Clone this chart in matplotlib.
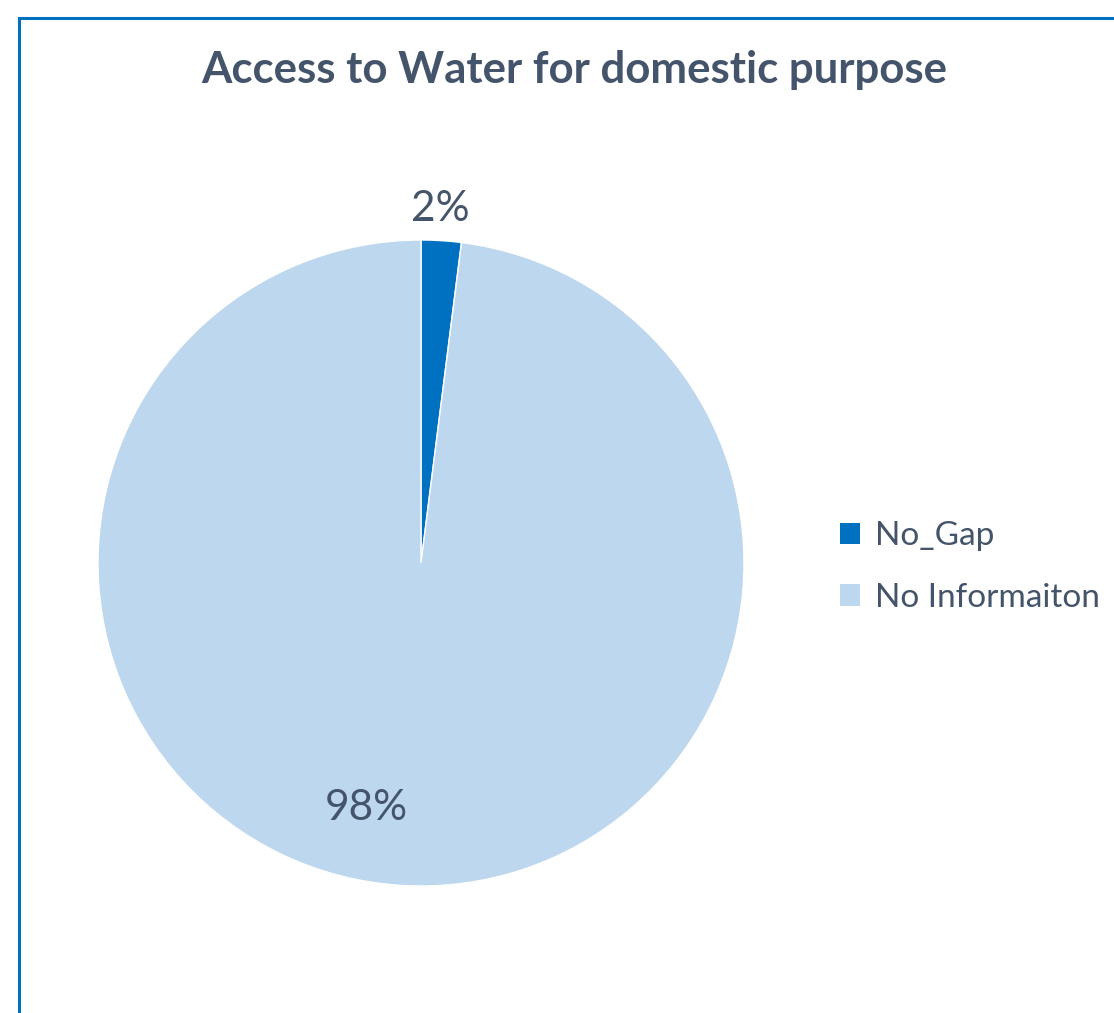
import matplotlib
matplotlib.use("Agg")
import matplotlib.pyplot as plt
from matplotlib.patches import Rectangle, Patch
import numpy as np

categories = ["No_Gap", "No Informaiton"]
values = [2, 98]
labels = ["2%", "98%"]
colors = ["#0070C0", "#BDD7EE"]
title = "Access to Water for domestic purpose"

W, H = 1114, 1013
fig = plt.figure(figsize=(W / 100, H / 100), dpi=100)
plt.rcParams['font.family'] = ['Lato', 'DejaVu Sans']
text_color = "#44546A"

# border (frame extends beyond right and bottom edges)
fig.patches.append(Rectangle((18.5 / W, -0.05), 1.2, 1 - 17.5 / H + 0.05,
                             transform=fig.transFigure, fill=False,
                             edgecolor="#0070C0", linewidth=2.2))

fig.text(574 / W, 1 - 70 / H, title, ha="center", va="center",
         fontsize=31.5, fontweight="bold", color=text_color)

cx, cy, r = 421, 563, 323
ax = fig.add_axes([(cx - r) / W, 1 - (cy + r) / H, 2 * r / W, 2 * r / H])
wedges, _ = ax.pie(values, colors=colors, startangle=90, counterclock=False,
                   wedgeprops=dict(edgecolor="white", linewidth=1.0))
ax.set_xlim(-1, 1)
ax.set_ylim(-1, 1)
ax.set_aspect("equal")
ax.axis("off")

# data labels
ax.text(0.06, 1.095, labels[0], ha="center", va="center", fontsize=30.5, color=text_color)
ax.text(-0.17, -0.76, labels[1], ha="center", va="center", fontsize=30.5, color=text_color)

handles = [Patch(facecolor=c, edgecolor="none") for c in colors]
fig.legend(handles, categories, loc="center left", bbox_to_anchor=(813 / W, 1 - 567 / H),
           frameon=False, fontsize=24, labelcolor=text_color, handlelength=0.6,
           handleheight=0.6, handletextpad=0.45, labelspacing=0.95, borderpad=0.3)

fig.savefig("out.png", dpi=100, facecolor="white")
